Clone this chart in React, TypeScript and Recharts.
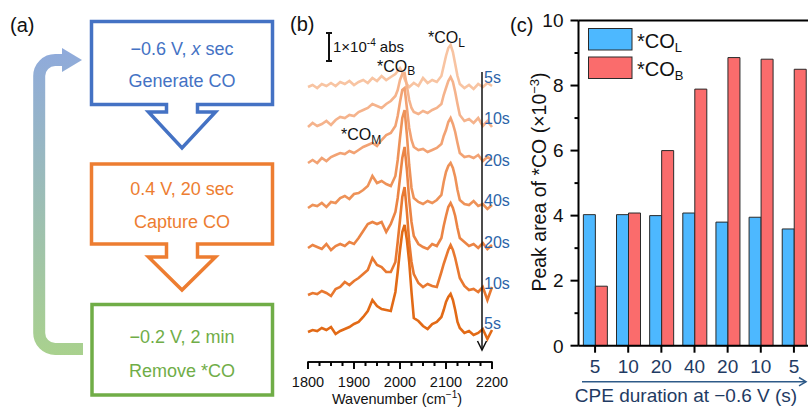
import React from "react";
import { Bar, BarChart, Line, LineChart, ReferenceLine, XAxis, YAxis } from "recharts";

const FONT = "'Liberation Sans', Arial, Helvetica, sans-serif";

// (b) stacked in-situ spectra, display units (28 units = 1x10^-4 abs)
const wavenumbers = [
  1800, 1810, 1820, 1830, 1840, 1850, 1860, 1870, 1880, 1890, 1900, 1910, 1920, 1930, 1940, 1950, 1960, 1970,
  1980, 1990, 1995, 2000, 2005, 2010, 2015, 2020, 2025, 2030, 2040, 2050, 2060, 2070, 2080, 2090, 2095, 2100,
  2105, 2110, 2115, 2120, 2125, 2130, 2140, 2150, 2160, 2170, 2180, 2190, 2200,
];
const spec5a = [
  275, 277, 274, 278, 276, 279, 276, 280, 278, 281, 277, 280, 282, 279, 284, 281, 286, 282, 285, 288, 291, 294, 290,
  283, 278, 275, 277, 279, 276, 284, 279, 282, 280, 286, 296, 306, 314, 317, 310, 298, 286, 278, 274, 277, 273, 278,
  275, 279, 276,
];
const spec10a = [
  235, 239, 236, 238, 241, 237, 242, 245, 244, 247, 246, 250, 252, 254, 258, 256, 254, 258, 261, 266, 272, 282, 288,
  289, 276, 262, 254, 250, 248, 251, 249, 252, 254, 258, 267, 274, 281, 285, 280, 270, 258, 247, 241, 243, 239, 244,
  236, 241, 235,
];
const spec20a = [
  199, 202, 199, 204, 201, 205, 207, 209, 208, 211, 209, 212, 215, 217, 219, 216, 222, 227, 229, 236, 246, 260, 272,
  274, 254, 234, 222, 215, 212, 213, 210, 212, 214, 218, 226, 232, 240, 244, 238, 230, 219, 209, 205, 206, 204, 207,
  201, 205, 202,
];
const spec40 = [
  154, 157, 156, 159, 155, 160, 159, 164, 166, 163, 168, 169, 172, 176, 186, 179, 181, 178, 176, 186, 202, 224, 244,
  252, 227, 197, 174, 164, 160, 158, 161, 159, 162, 167, 180, 190, 196, 199, 194, 185, 172, 162, 158, 157, 161, 156,
  158, 153, 157,
];
const spec20b = [
  114, 117, 115, 113, 118, 112, 116, 118, 116, 120, 118, 124, 131, 138, 140, 138, 140, 130, 138, 150, 164, 184, 204,
  215, 192, 162, 140, 126, 118, 115, 113, 118, 116, 124, 136, 146, 155, 159, 154, 146, 134, 124, 120, 116, 118, 114,
  119, 113, 117,
];
const spec10b = [
  67, 69, 68, 71, 69, 66, 73, 75, 80, 77, 81, 84, 88, 92, 104, 97, 95, 90, 90, 100, 120, 142, 165, 175, 150, 120, 100,
  88, 79, 75, 78, 76, 75, 90, 98, 105, 112, 117, 112, 104, 94, 84, 76, 72, 73, 70, 75, 62, 75,
];
const spec5b = [
  30, 32, 31, 34, 32, 35, 28, 31, 33, 35, 38, 40, 45, 51, 62, 56, 53, 52, 51, 70, 90, 112, 130, 137, 122, 100, 70, 44,
  41, 36, 33, 38, 40, 45, 52, 60, 65, 68, 62, 52, 40, 34, 29, 31, 27, 29, 33, 23, 32,
];
const spectra = [spec5a, spec10a, spec20a, spec40, spec20b, spec10b, spec5b];
const spectraLabels = ["5s", "10s", "20s", "40s", "20s", "10s", "5s"];
const spectraColors = ["#F8C4A2", "#F5B38C", "#F2A273", "#EE9258", "#EB8444", "#E87830", "#E26A16"];
const waveTicks = [
  1800, 1825, 1850, 1875, 1900, 1925, 1950, 1975, 2000, 2025, 2050, 2075, 2100, 2125, 2150, 2175, 2200,
];

// (c) peak areas (x10^-3)
const durations = ["5", "10", "20", "40", "20", "10", "5"];
const areaCOL = [4.03, 4.03, 4.0, 4.08, 3.8, 3.95, 3.59];
const areaCOB = [1.83, 4.08, 6.0, 7.89, 8.86, 8.81, 8.5];
const areaTicks = [0, 1, 2, 3, 4, 5, 6, 7, 8, 9, 10];

// plot box of (b) on the page (chart at left 280, margins 28 / 20 / 45)
const B_LEFT = 308;
const B_RIGHT = 492;
const B_BOTTOM = 362;

const spectraRows = wavenumbers.map((wn, i) => {
  const row: Record<string, number> = { wn };
  spectra.forEach((s, k) => (row[`s${k}`] = s[i]));
  return row;
});

const barRows = durations.map((d, i) => ({ run: i, duration: d, coL: areaCOL[i], coB: areaCOB[i] }));

const WaveTick = (props: any) => {
  const { x, y, payload } = props;
  const major = payload.value % 100 === 0;
  return (
    <g>
      <line x1={x} y1={y} x2={x} y2={y + (major ? 7 : 4)} stroke="#000" strokeWidth={1.6} />
      {major && (
        <text x={x} y={y + 25} textAnchor="middle" fontSize={14.5} fontFamily={FONT} fill="#111">
          {payload.value}
        </text>
      )}
    </g>
  );
};

const RunTick = (props: any) => {
  const { x, y, payload } = props;
  return (
    <g>
      <line x1={x} y1={y} x2={x} y2={y + 7} stroke="#000" strokeWidth={2} />
      <text x={x} y={y + 27.6} textAnchor="middle" fontSize={19} fontFamily={FONT} fill="#1F3B63">
        {durations[payload.value]}
      </text>
    </g>
  );
};

const AreaTick = (props: any) => {
  const { x, y, payload } = props;
  const major = payload.value % 2 === 0;
  return (
    <g>
      <line x1={x} y1={y} x2={x - (major ? 8 : 4)} y2={y} stroke="#000" strokeWidth={2} />
      {major && (
        <text x={x - 15} y={y + 6.8} textAnchor="end" fontSize={19} fontFamily={FONT} fill="#111">
          {payload.value}
        </text>
      )}
    </g>
  );
};

const waveX = (wn: number) => B_LEFT + ((wn - 1800) * (B_RIGHT - B_LEFT)) / 400;

const Overlay = () => (
  <svg width={808} height={407} style={{ position: "absolute", left: 0, top: 0, pointerEvents: "none" }} fontFamily={FONT}>
    <defs>
      <linearGradient id="cycleGrad" gradientUnits="userSpaceOnUse" x1={0} y1={48} x2={0} y2={355}>
        <stop offset="0" stopColor="#8FAADC" />
        <stop offset="1" stopColor="#A9D18E" />
      </linearGradient>
    </defs>

    {/* (a) workflow */}
    <text x={10} y={32} fontSize={20} fill="#111">(a)</text>
    <path d="M 83 349 H 55.2 A 16 16 0 0 1 39.2 333 V 76 A 16 16 0 0 1 55.2 60 H 63" fill="none" stroke="url(#cycleGrad)" strokeWidth={12} />
    <polygon points="62,48 82,60 62,72" fill="url(#cycleGrad)" />
    <polygon
      points="91.5,21.5 272.5,21.5 272.5,104.5 197.5,104.5 197.5,112 215.5,112 182,148 148.5,112 166.5,112 166.5,104.5 91.5,104.5"
      fill="#fff" stroke="#4472C4" strokeWidth={3.5}
    />
    <polygon
      points="91.5,164 272.5,164 272.5,244 197.5,244 197.5,257 215.5,257 182,290 148.5,257 166.5,257 166.5,244 91.5,244"
      fill="#fff" stroke="#ED7D31" strokeWidth={3.5}
    />
    <rect x={92} y={304.5} width={180.5} height={90.5} fill="#fff" stroke="#70AD47" strokeWidth={3.5} />
    <g fontSize={18} textAnchor="middle">
      <text x={182} y={54.5} fill="#4472C4">−0.6 V, <tspan fontStyle="italic">x</tspan> sec</text>
      <text x={182} y={86.5} fill="#4472C4">Generate CO</text>
      <text x={182} y={194.5} fill="#ED7D31">0.4 V, 20 sec</text>
      <text x={182} y={228} fill="#ED7D31">Capture CO</text>
      <text x={182} y={343} fill="#70AD47">−0.2 V, 2 min</text>
      <text x={182} y={376.5} fill="#70AD47">Remove *CO</text>
    </g>

    {/* (b) annotations */}
    <text x={290} y={31} fontSize={20} fill="#111">(b)</text>
    <g stroke="#000" strokeWidth={1.6}>
      <line x1={B_LEFT - 0.8} y1={B_BOTTOM} x2={B_RIGHT + 0.8} y2={B_BOTTOM} />
      {waveTicks.map((t) => (
        <line key={t} x1={waveX(t)} y1={B_BOTTOM} x2={waveX(t)} y2={B_BOTTOM + (t % 100 === 0 ? 7 : 4)} />
      ))}
    </g>
    <g stroke="#111" strokeWidth={2}>
      <line x1={329} y1={33} x2={329} y2={61} />
      <line x1={326} y1={33} x2={332} y2={33} />
      <line x1={326} y1={61} x2={332} y2={61} />
    </g>
    <text x={333} y={52} fontSize={15} fill="#111">
      1×10<tspan dy={-6} fontSize={10}>-4</tspan><tspan dy={6}> abs</tspan>
    </text>
    <text x={377} y={71.7} fontSize={16} fill="#111">*CO<tspan dy={3.5} fontSize={12}>B</tspan></text>
    <text x={428} y={43.3} fontSize={16} fill="#111">*CO<tspan dy={3.5} fontSize={12}>L</tspan></text>
    <text x={341} y={140} fontSize={16} fill="#111">*CO<tspan dy={3.5} fontSize={12}>M</tspan></text>
    <g stroke="#111" strokeWidth={1.5} fill="none">
      <line x1={482} y1={72} x2={482} y2={350} />
      <polyline points="477.5,341 482,350 486.5,341" />
    </g>
    <g fontSize={16} fill="#2C64A8">
      {spectraLabels.map((t, i) => (
        <text key={i} x={484} y={[82.5, 123.5, 165.5, 205.5, 247.5, 288.5, 328.5][i]}>{t}</text>
      ))}
    </g>
    <text x={397} y={404} fontSize={14.5} textAnchor="middle" fill="#111">
      Wavenumber (cm<tspan dy={-6} fontSize={10}>−1</tspan><tspan dy={6}>)</tspan>
    </text>

    {/* (c) annotations */}
    <text x={510} y={32} fontSize={20} fill="#111">(c)</text>
    <rect x={588.5} y={28.5} width={43.5} height={21.5} fill="#4DB8FF" stroke="#2a2a2a" strokeWidth={1} />
    <rect x={588.5} y={57} width={43.5} height={21.5} fill="#FA6C6C" stroke="#2a2a2a" strokeWidth={1} />
    <text x={637} y={47.7} fontSize={20} fill="#111">*CO<tspan dy={4} fontSize={13}>L</tspan></text>
    <text x={637} y={76} fontSize={20} fill="#111">*CO<tspan dy={4} fontSize={13}>B</tspan></text>
    <text x={546} y={182} fontSize={19.5} textAnchor="middle" fill="#111" transform="rotate(-90 546 182)">
      Peak area of *CO (×10<tspan dy={-7} fontSize={13}>−3</tspan><tspan dy={7}>)</tspan>
    </text>
    <g stroke="#2E5A88" strokeWidth={1.5} fill="none">
      <line x1={582} y1={381.7} x2={806} y2={381.7} />
      <polyline points="799,377.5 806,381.7 799,385.9" />
    </g>
    <text x={686} y={401.8} fontSize={19} textAnchor="middle" fill="#1F3B63">CPE duration at −0.6 V (s)</text>
  </svg>
);

export default function App() {
  return (
    <div style={{ position: "absolute", left: 0, top: 0, width: 808, height: 407, overflow: "hidden", background: "#fff" }}>
      <div style={{ position: "absolute", left: 280, top: 0 }}>
        <LineChart width={240} height={407} data={spectraRows} margin={{ top: 20, right: 28, bottom: 5, left: 28 }}>
          <XAxis
            dataKey="wn"
            type="number"
            domain={[1800, 2200]}
            ticks={waveTicks}
            interval={0}
            tick={(p: any) => <WaveTick {...p} />}
            tickLine={false}
            tickSize={0}
            tickMargin={0}
            height={40}
            axisLine={{ stroke: "#000", strokeWidth: 1.6 }}
          />
          <YAxis hide width={0} type="number" domain={[0, 342]} />
          {spectra.map((_, k) => (
            <Line
              key={k}
              type="linear"
              dataKey={`s${k}`}
              stroke={spectraColors[k]}
              strokeWidth={2.6}
              dot={false}
              isAnimationActive={false}
            />
          ))}
        </LineChart>
      </div>
      <div style={{ position: "absolute", left: 500, top: 0 }}>
        <BarChart
          width={320}
          height={407}
          data={barRows}
          margin={{ top: 20.5, right: 9.5, bottom: 21.3, left: 0 }}
          barCategoryGap="14.7%"
          barGap={0}
        >
          <XAxis
            dataKey="run"
            interval={0}
            tick={(p: any) => <RunTick {...p} />}
            tickLine={false}
            tickSize={0}
            tickMargin={0}
            height={40}
            axisLine={{ stroke: "#000", strokeWidth: 2 }}
          />
          <YAxis
            type="number"
            domain={[0, 10]}
            ticks={areaTicks}
            interval={0}
            width={78.5}
            tick={(p: any) => <AreaTick {...p} />}
            tickLine={false}
            tickSize={0}
            tickMargin={0}
            axisLine={{ stroke: "#000", strokeWidth: 2 }}
          />
          <ReferenceLine y={10} stroke="#000" strokeWidth={2} />
          <Bar dataKey="coL" fill="#4DB8FF" stroke="#2a2a2a" strokeWidth={1} isAnimationActive={false} />
          <Bar dataKey="coB" fill="#FA6C6C" stroke="#2a2a2a" strokeWidth={1} isAnimationActive={false} />
        </BarChart>
      </div>
      <Overlay />
    </div>
  );
}
